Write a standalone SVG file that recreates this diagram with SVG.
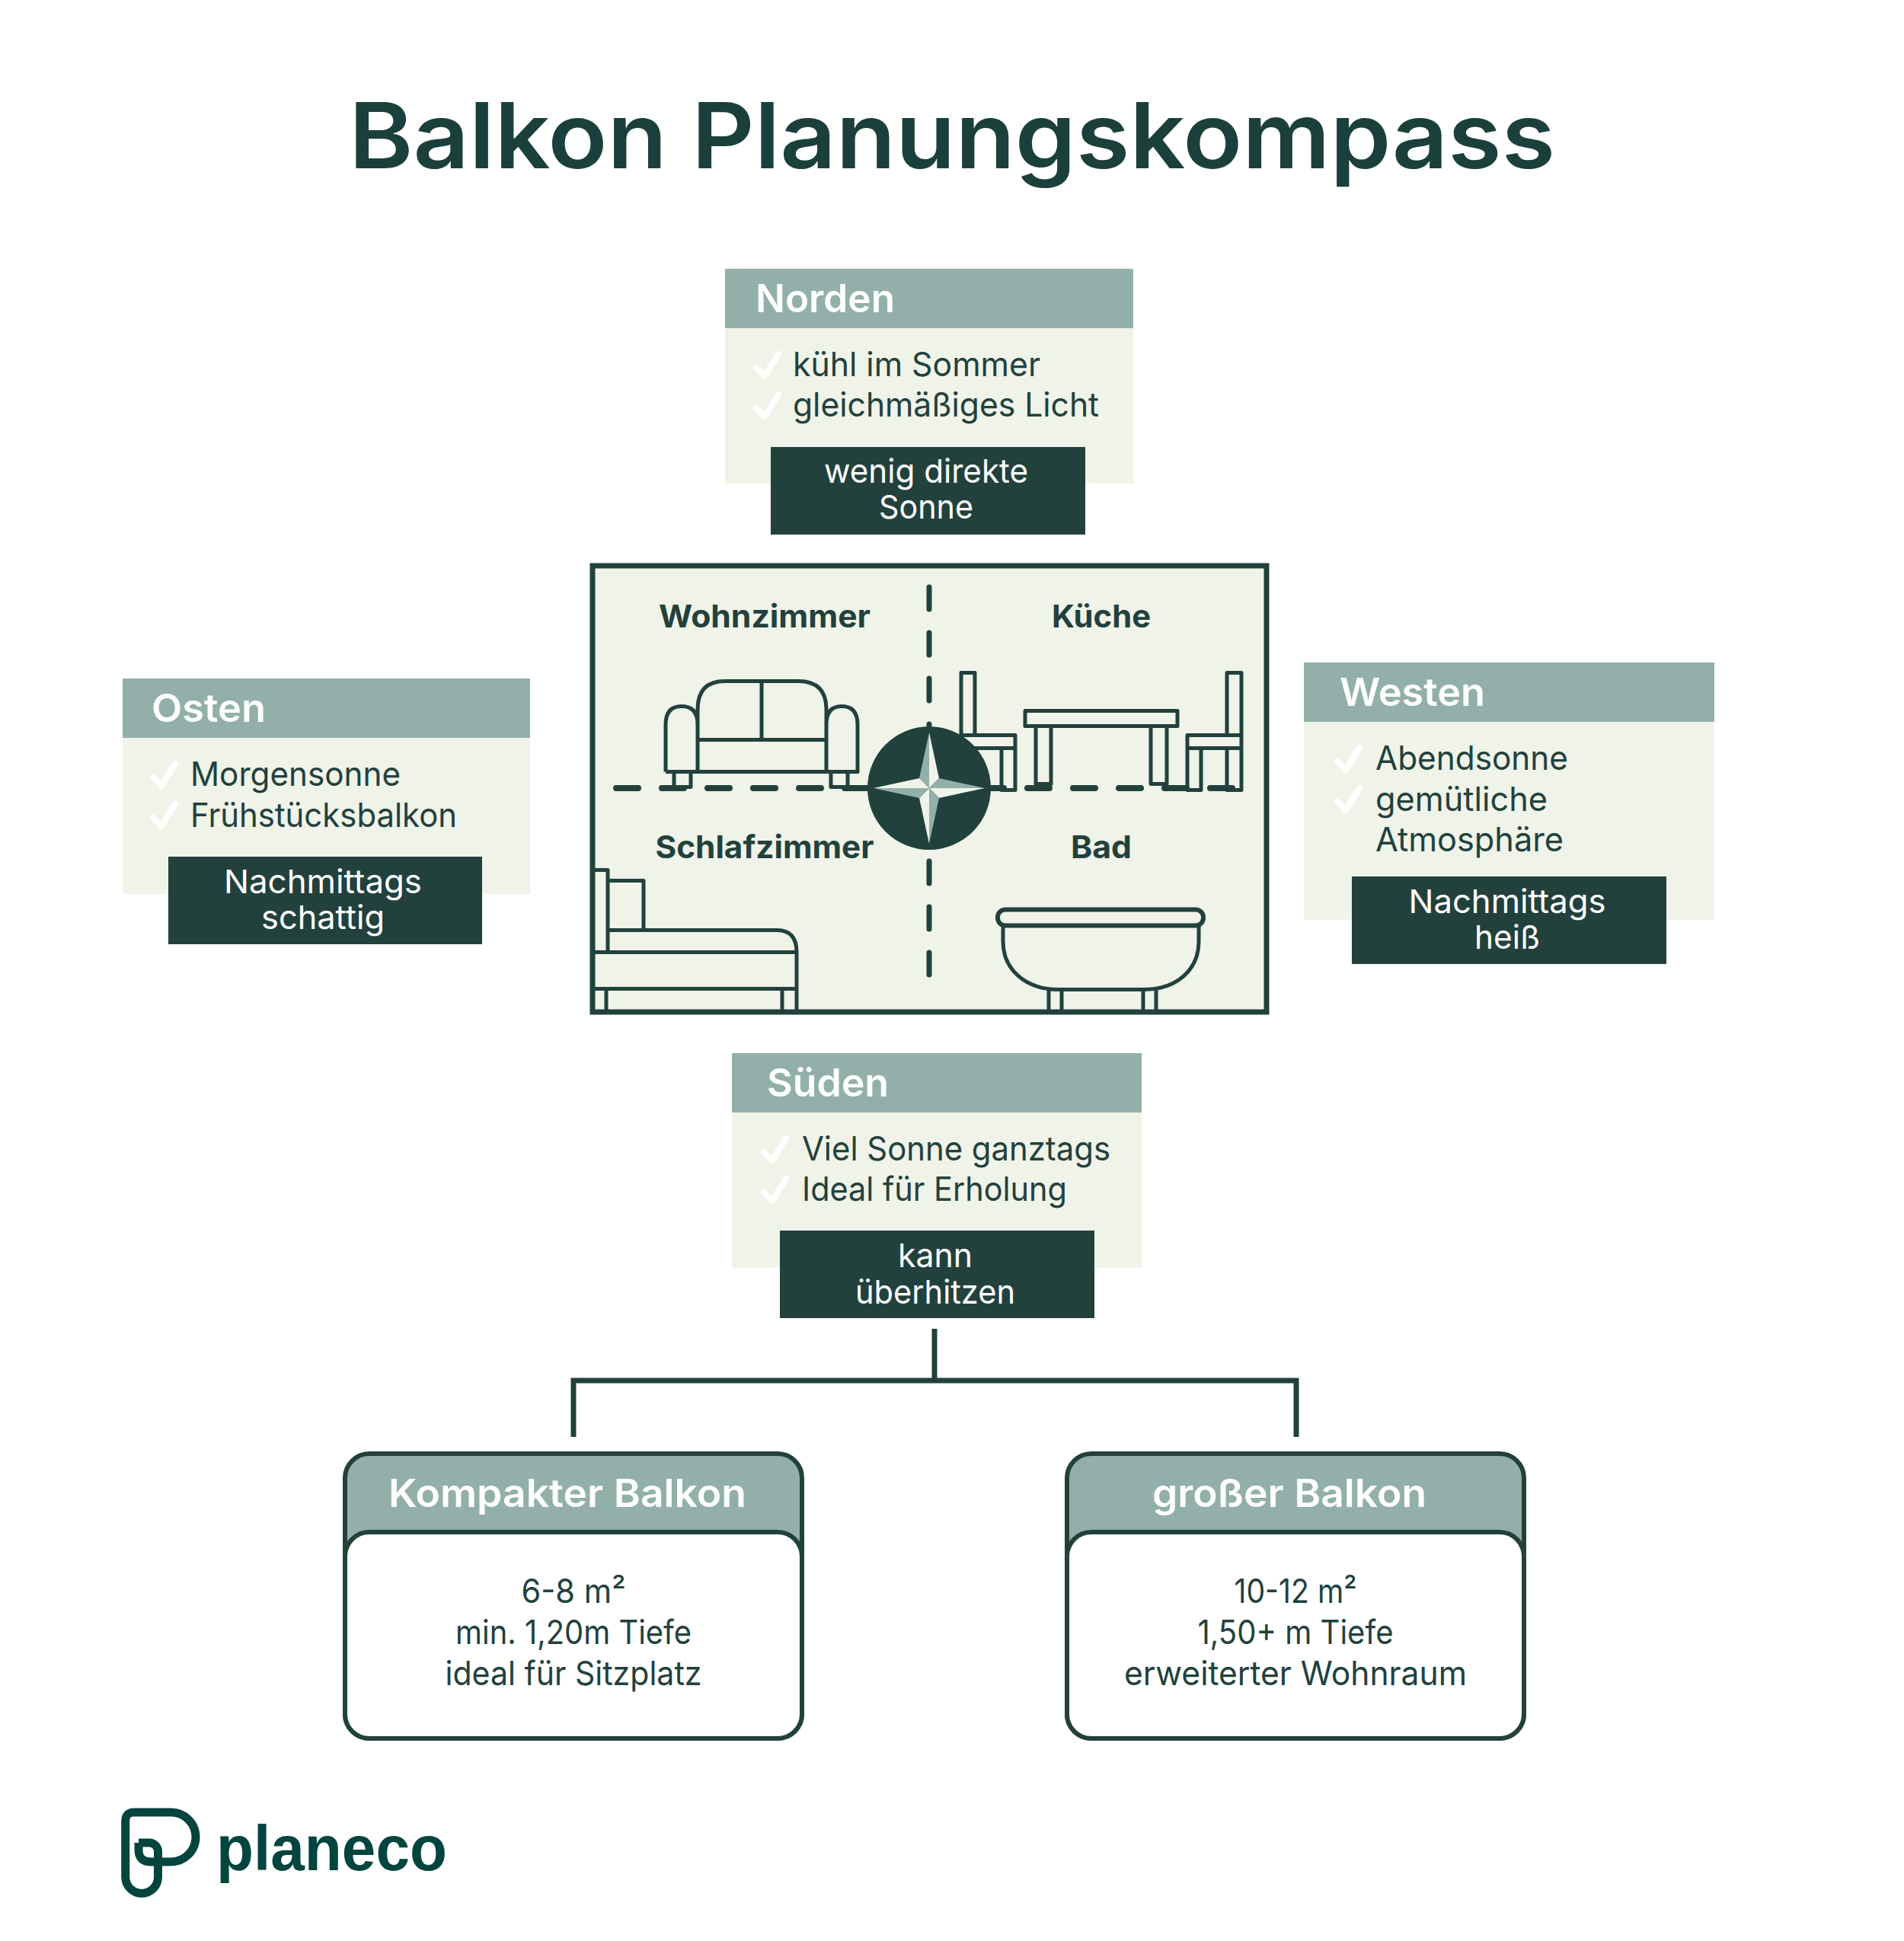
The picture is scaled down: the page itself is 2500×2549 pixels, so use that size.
<svg xmlns="http://www.w3.org/2000/svg" width="2500" height="2549" viewBox="0 0 2500 2549">
<style>
text{font-family:"Inter","Noto Sans","Liberation Sans",sans-serif;fill:#22413c}
.title{font-size:120px;font-weight:600;fill:#1b403b}
.h{font-size:51px;font-weight:600;fill:#fff}
.b{font-size:44px;font-weight:400}
.w{font-size:43px;font-weight:400;fill:#fff;text-anchor:middle}
.r{font-size:41px;font-weight:700;text-anchor:middle}
.c{text-anchor:middle}
.sage{fill:#92b0a9}.cream{fill:#f0f3e8}.dark{fill:#22413c}
.chk{fill:none;stroke:#fff;stroke-width:8;stroke-linecap:round;stroke-linejoin:round}
.ln{fill:none;stroke:#22413c;stroke-width:5;stroke-linejoin:round}
.dash{fill:none;stroke:#22413c;stroke-width:7;stroke-linecap:round;stroke-dasharray:29 31}
.conn{fill:none;stroke:#22413c;stroke-width:7}
.card{stroke:#22413c;stroke-width:6}
</style>
<defs>
<path id="chk" class="chk" d="M4,22 L15,33 L33,4"/>
</defs>
<rect width="2500" height="2549" fill="#fff"/>
<text class="title" x="458" y="221" textLength="1584" lengthAdjust="spacingAndGlyphs">Balkon Planungskompass</text>

<g id="norden">
<rect class="cream" x="952" y="353" width="536" height="282"/>
<rect class="sage" x="952" y="353" width="536" height="78"/>
<text class="h" x="992" y="410" textLength="183" lengthAdjust="spacingAndGlyphs">Norden</text>
<use href="#chk" x="989" y="461"/><use href="#chk" x="989" y="514"/>
<text class="b" x="1041" y="494" textLength="325" lengthAdjust="spacingAndGlyphs">kühl im Sommer</text>
<text class="b" x="1041" y="547" textLength="402" lengthAdjust="spacingAndGlyphs">gleichmäßiges Licht</text>
<rect class="dark" x="1012" y="587" width="413" height="115"/>
<text class="w" x="1216" y="634" textLength="268" lengthAdjust="spacingAndGlyphs">wenig direkte</text>
<text class="w" x="1216" y="681" textLength="124" lengthAdjust="spacingAndGlyphs">Sonne</text>
</g>

<g id="osten">
<rect class="cream" x="161" y="891" width="535" height="283"/>
<rect class="sage" x="161" y="891" width="535" height="78"/>
<text class="h" x="199" y="948" textLength="150" lengthAdjust="spacingAndGlyphs">Osten</text>
<use href="#chk" x="197" y="999"/><use href="#chk" x="197" y="1052"/>
<text class="b" x="250" y="1032" textLength="276" lengthAdjust="spacingAndGlyphs">Morgensonne</text>
<text class="b" x="250" y="1086" textLength="350" lengthAdjust="spacingAndGlyphs">Frühstücksbalkon</text>
<rect class="dark" x="221" y="1125" width="412" height="115"/>
<text class="w" x="424" y="1173" textLength="260" lengthAdjust="spacingAndGlyphs">Nachmittags</text>
<text class="w" x="424" y="1220" textLength="162" lengthAdjust="spacingAndGlyphs">schattig</text>
</g>

<g id="westen">
<rect class="cream" x="1712" y="870" width="539" height="338"/>
<rect class="sage" x="1712" y="870" width="539" height="78"/>
<text class="h" x="1759" y="927" textLength="191" lengthAdjust="spacingAndGlyphs">Westen</text>
<use href="#chk" x="1752" y="978"/><use href="#chk" x="1752" y="1031"/>
<text class="b" x="1806" y="1011" textLength="253" lengthAdjust="spacingAndGlyphs">Abendsonne</text>
<text class="b" x="1806" y="1065" textLength="226" lengthAdjust="spacingAndGlyphs">gemütliche</text>
<text class="b" x="1806" y="1118" textLength="247" lengthAdjust="spacingAndGlyphs">Atmosphäre</text>
<rect class="dark" x="1775" y="1151" width="413" height="115"/>
<text class="w" x="1979" y="1199" textLength="259" lengthAdjust="spacingAndGlyphs">Nachmittags</text>
<text class="w" x="1979" y="1246" textLength="86" lengthAdjust="spacingAndGlyphs">heiß</text>
</g>

<g id="sueden">
<rect class="cream" x="961" y="1383" width="538" height="282"/>
<rect class="sage" x="961" y="1383" width="538" height="78"/>
<text class="h" x="1007" y="1440" textLength="160" lengthAdjust="spacingAndGlyphs">Süden</text>
<use href="#chk" x="999" y="1491"/><use href="#chk" x="999" y="1544"/>
<text class="b" x="1053" y="1524" textLength="405" lengthAdjust="spacingAndGlyphs">Viel Sonne ganztags</text>
<text class="b" x="1053" y="1577" textLength="348" lengthAdjust="spacingAndGlyphs">Ideal für Erholung</text>
<rect class="dark" x="1024" y="1616" width="413" height="115"/>
<text class="w" x="1228" y="1664" textLength="98" lengthAdjust="spacingAndGlyphs">kann</text>
<text class="w" x="1228" y="1712" textLength="210" lengthAdjust="spacingAndGlyphs">überhitzen</text>
</g>

<g id="grundriss">
<rect class="cream" x="778" y="743" width="885" height="586"/>
<path class="dash" d="M1220,771V1285"/>
<path class="dash" d="M809,1035H1618" style="stroke-width:8"/>
<text class="r" x="1004" y="824" textLength="278" lengthAdjust="spacingAndGlyphs">Wohnzimmer</text>
<text class="r" x="1446" y="824" textLength="130" lengthAdjust="spacingAndGlyphs">Küche</text>
<text class="r" x="1004" y="1127" textLength="287" lengthAdjust="spacingAndGlyphs">Schlafzimmer</text>
<text class="r" x="1446" y="1127" textLength="80" lengthAdjust="spacingAndGlyphs">Bad</text>
<g transform="translate(0,1.500)">
<!-- sofa -->
<path class="ln" d="M916,1012V930Q916,893 952,893H1048Q1085,893 1085,930V1012M1000,893V970M916,970H1085M874,1012H1126V950Q1126,926 1105,926Q1085,926 1085,950M874,1012V950Q874,926 895,926Q916,926 916,950M885,1012V1032H907V1012M1091,1012V1032H1113V1012"/>
<!-- chairs + table -->
<path class="ln" d="M1262,964V882H1280V964M1262,964H1333V981H1262ZM1262,981V1036H1280V981M1315,981V1036H1333V981"/>
<path class="ln" d="M1611,964V882H1630V964M1559,964H1630V981H1559ZM1559,981V1036H1577V981M1611,981V1036H1630V981"/>
<path class="ln" d="M1346,932H1546V952H1346ZM1360,952V1028H1380V952M1511,952V1028H1532V952"/>
<!-- bed -->
<path class="ln" d="M781,1141H798V1249M798,1220H845V1155H798M798,1220H1020Q1046,1220 1046,1249V1330M781,1249H1046M781,1297H1046M796,1297V1330M1027,1297V1330"/>
<!-- tub -->
<rect x="1310" y="1193" width="270" height="21" rx="10" fill="none" stroke="#22413c" stroke-width="6"/>
<path class="ln" d="M1317,1214V1235C1317,1272 1347,1298 1390,1298H1502C1545,1298 1574,1272 1574,1235V1214M1377,1298V1330M1394,1298V1330M1501,1298V1330M1518,1298V1330"/>
</g>
<rect x="778" y="743" width="885" height="586" fill="none" stroke="#22413c" stroke-width="7"/>
</g>

<g id="kompass">
<circle class="dark" cx="1220" cy="1035" r="81"/>
<path class="sage" d="M1220,962L1207,1022L1220,1035Z"/>
<path class="cream" d="M1220,962L1233,1022L1220,1035Z"/>
<path class="sage" d="M1293,1035L1233,1022L1220,1035Z"/>
<path class="cream" d="M1293,1035L1233,1048L1220,1035Z"/>
<path class="sage" d="M1220,1108L1233,1048L1220,1035Z"/>
<path class="cream" d="M1220,1108L1207,1048L1220,1035Z"/>
<path class="sage" d="M1147,1035L1207,1048L1220,1035Z"/>
<path class="cream" d="M1147,1035L1207,1022L1220,1035Z"/>
</g>

<g id="connectors">
<path class="conn" d="M1227,1745V1813M753,1887V1813H1702V1887"/>
</g>

<g id="kompakter-balkon">
<rect class="sage card" x="453" y="1909" width="600" height="374" rx="32"/>
<rect class="card" fill="#fff" x="453" y="2012" width="600" height="271" rx="32"/>
<text class="h c" x="745" y="1979" textLength="470" lengthAdjust="spacingAndGlyphs">Kompakter Balkon</text>
<text class="b c" x="753" y="2105" textLength="137" lengthAdjust="spacingAndGlyphs">6-8 m²</text>
<text class="b c" x="753" y="2159" textLength="310" lengthAdjust="spacingAndGlyphs">min. 1,20m Tiefe</text>
<text class="b c" x="753" y="2213" textLength="337" lengthAdjust="spacingAndGlyphs">ideal für Sitzplatz</text>
</g>

<g id="grosser-balkon">
<rect class="sage card" x="1401" y="1909" width="600" height="374" rx="32"/>
<rect class="card" fill="#fff" x="1401" y="2012" width="600" height="271" rx="32"/>
<text class="h c" x="1693" y="1979" textLength="360" lengthAdjust="spacingAndGlyphs">großer Balkon</text>
<text class="b c" x="1701" y="2105" textLength="161" lengthAdjust="spacingAndGlyphs">10-12 m²</text>
<text class="b c" x="1701" y="2159" textLength="257" lengthAdjust="spacingAndGlyphs">1,50+ m Tiefe</text>
<text class="b c" x="1701" y="2213" textLength="450" lengthAdjust="spacingAndGlyphs">erweiterter Wohnraum</text>
</g>

<g id="logo">
<path fill="none" stroke="#02443e" stroke-width="11" d="M182,2420H196A11.500,11.500 0 0 1 207.500,2432V2465A21.400,21.400 0 0 1 164.700,2465V2392Q164.700,2380 176,2380H224.500A32.500,32.500 0 0 1 224.500,2445H198Q182,2445 182,2429V2420"/>
<text x="284" y="2456" font-size="84" font-weight="700" style="font-family:'Liberation Sans',Arial,sans-serif;fill:#02443e" textLength="303" lengthAdjust="spacingAndGlyphs">planeco</text>
</g>
</svg>
